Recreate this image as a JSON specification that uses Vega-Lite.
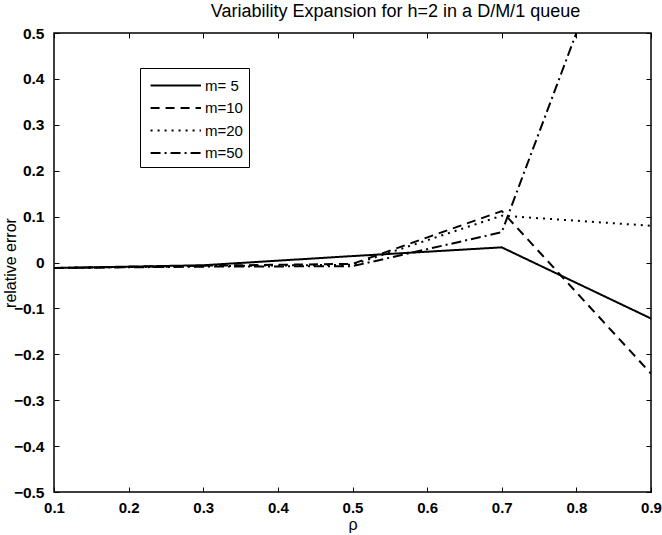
{
  "$schema": "https://vega.github.io/schema/vega-lite/v6.json",
  "width": 597,
  "height": 459,
  "autosize": {"type": "none"},
  "padding": {"left": 54, "top": 33, "right": 11, "bottom": 43},
  "background": "white",
  "title": {"text": "Variability Expansion for h=2 in a D/M/1 queue", "font": "Liberation Sans", "fontSize": 18, "fontWeight": "normal", "color": "black", "offset": 5, "anchor": "middle", "dx": 43},
  "config": {
    "view": {"stroke": "black", "strokeWidth": 1.5},
    "axis": {"domain": false, "grid": false, "labelFlush": false, "tickColor": "black", "tickSize": -5, "tickWidth": 1, "labelFont": "Liberation Sans", "labelFontSize": 15.5, "labelColor": "black", "titleFont": "Liberation Sans", "titleFontSize": 16, "titleFontWeight": "normal", "titleColor": "black"}
  },
  "data": {"values": [
    {"rho": 0.1, "err": -0.012, "m": "m= 5"},
    {"rho": 0.3, "err": -0.006, "m": "m= 5"},
    {"rho": 0.5, "err": 0.014, "m": "m= 5"},
    {"rho": 0.7, "err": 0.033, "m": "m= 5"},
    {"rho": 0.9, "err": -0.122, "m": "m= 5"},
    {"rho": 0.1, "err": -0.012, "m": "m=10"},
    {"rho": 0.3, "err": -0.007, "m": "m=10"},
    {"rho": 0.5, "err": -0.003, "m": "m=10"},
    {"rho": 0.7, "err": 0.112, "m": "m=10"},
    {"rho": 0.9, "err": -0.242, "m": "m=10"},
    {"rho": 0.1, "err": -0.012, "m": "m=20"},
    {"rho": 0.3, "err": -0.008, "m": "m=20"},
    {"rho": 0.5, "err": -0.005, "m": "m=20"},
    {"rho": 0.7, "err": 0.102, "m": "m=20"},
    {"rho": 0.9, "err": 0.08, "m": "m=20"},
    {"rho": 0.1, "err": -0.012, "m": "m=50"},
    {"rho": 0.3, "err": -0.009, "m": "m=50"},
    {"rho": 0.5, "err": -0.008, "m": "m=50"},
    {"rho": 0.7, "err": 0.066, "m": "m=50"},
    {"rho": 0.9, "err": 0.934, "m": "m=50"}
  ]},
  "layer": [
    {
      "mark": {"type": "line", "color": "black", "strokeWidth": 2, "clip": true},
      "encoding": {
        "x": {"field": "rho", "type": "quantitative", "scale": {"domain": [0.1, 0.9], "nice": false, "zero": false}, "axis": {"values": [0.1,0.2,0.3,0.4,0.5,0.6,0.7,0.8,0.9], "format": ".1f", "title": "ρ", "labelPadding": 13, "labelFontSize": 15, "titlePadding": 1, "labelFontWeight": "bold"}},
        "y": {"field": "err", "type": "quantitative", "scale": {"domain": [-0.5, 0.5], "nice": false, "zero": false}, "axis": {"values": [-0.5,-0.4,-0.3,-0.2,-0.1,0,0.1,0.2,0.3,0.4,0.5], "format": ".1~f", "title": "relative error", "labelPadding": 15, "titleX": -44, "titleBaseline": "middle", "labelFontWeight": "bold"}},
        "strokeDash": {"field": "m", "type": "nominal", "scale": {"domain": ["m= 5", "m=10", "m=20", "m=50"], "range": [[1, 0], [9, 6], [2, 5], [10, 4, 2, 4]]},
          "legend": {"title": null, "orient": "none", "legendX": 86, "legendY": 35, "symbolType": "M-0.66,0H4.14", "symbolSize": 441, "symbolStrokeWidth": 2, "symbolStrokeColor": "black", "labelFont": "Liberation Sans", "labelFontSize": 15, "labelColor": "black", "rowPadding": 2.5, "padding": 6, "strokeColor": "black", "fillColor": "white", "labelOffset": 36}}
      }
    },
    {
      "mark": {"type": "line", "opacity": 0, "clip": true},
      "encoding": {
        "x": {"field": "rho", "type": "quantitative", "scale": {"domain": [0.1, 0.9], "nice": false, "zero": false}, "axis": {"orient": "top", "values": [0.1,0.2,0.3,0.4,0.5,0.6,0.7,0.8,0.9], "labels": false, "title": null}},
        "y": {"field": "err", "type": "quantitative", "scale": {"domain": [-0.5, 0.5], "nice": false, "zero": false}, "axis": {"orient": "right", "values": [-0.5,-0.4,-0.3,-0.2,-0.1,0,0.1,0.2,0.3,0.4,0.5], "labels": false, "title": null}}
      }
    }
  ],
  "resolve": {"axis": {"x": "independent", "y": "independent"}}
}
